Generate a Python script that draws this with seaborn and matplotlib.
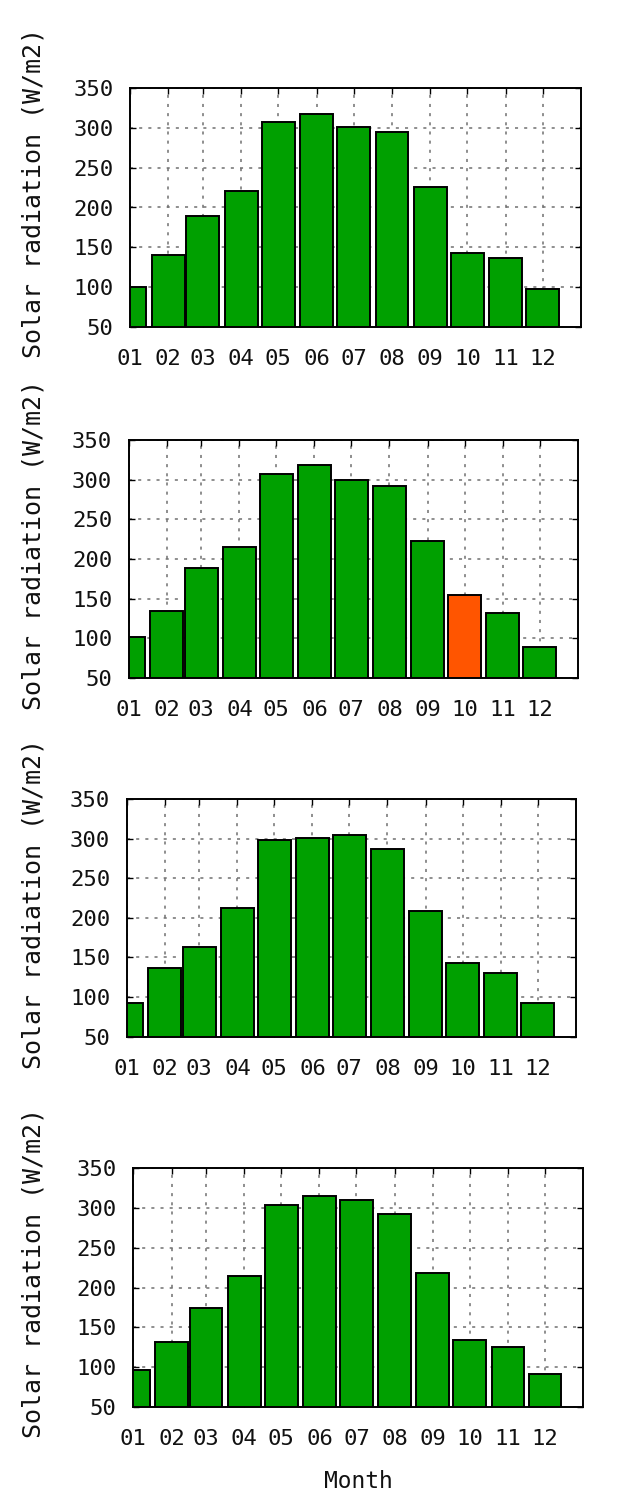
import numpy as np
import pandas as pd
import matplotlib
matplotlib.use("Agg")
import matplotlib.pyplot as plt
import seaborn as sns

# ---- data ----
months = ["01", "02", "03", "04", "05", "06", "07", "08", "09", "10", "11", "12"]
panel1 = [100, 140, 189, 221, 307, 318, 301, 295, 226, 143, 137, 97]
panel2 = [102, 134, 189, 215, 307, 318, 300, 292, 223, 154, 132, 89]
panel3 = [93, 137, 163, 212, 298, 301, 304, 287, 209, 143, 131, 93]
panel4 = [96, 131, 174, 214, 304, 315, 310, 292, 218, 134, 125, 91]
highlight = [None, "10", None, None]
yticks = [50, 100, 150, 200, 250, 300, 350]
ylabel = "Solar radiation (W/m2)"
xlabel = "Month"

GREEN = "#00a000"
ORANGE = "#ff5500"

# month start as day-of-year (time axis like gnuplot)
days = list(pd.to_datetime(["2013-" + m + "-01" for m in months]).dayofyear - 1)

sns.set_theme(style="ticks")
plt.rcParams["font.family"] = ["DejaVu Sans Mono", "DejaVu Sans"]

W, H = 628, 1499
fig = plt.figure(figsize=(W / 100, H / 100), dpi=100)

# axes rectangles in pixels: left, top, right, bottom
rects_px = [
    (130.0, 88.3, 581.0, 326.7),
    (128.7, 440.0, 577.7, 678.0),
    (126.7, 799.0, 575.7, 1036.7),
    (133.3, 1168.3, 583.3, 1406.7),
]

for i, (vals, hl) in enumerate(zip([panel1, panel2, panel3, panel4], highlight)):
    l, t, r, b = rects_px[i]
    ax = fig.add_axes([l / W, 1 - b / H, (r - l) / W, (b - t) / H])
    df = pd.DataFrame({"day": days, "value": vals, "month": months})
    pal = [ORANGE if m == hl else GREEN for m in months]
    sns.barplot(data=df, x="day", y="value", hue="month", palette=pal,
                native_scale=True, width=0.95, dodge=False, legend=False,
                errorbar=None, edgecolor="black", linewidth=1.4, saturation=1,
                ax=ax, zorder=3)
    ax.set_xlim(0, 365)
    ax.set_ylim(50, 350)
    ax.set_xticks(days)
    ax.set_xticklabels(months)
    ax.set_yticks(yticks)
    ax.grid(True, color="#707070", linestyle=(0, (2, 4)), linewidth=1.1, zorder=0)
    ax.set_axisbelow(True)
    ax.tick_params(direction="in", length=4, width=1, top=True, right=True,
                   labelsize=16, color="black", labelcolor="#111111")
    ax.tick_params(axis="x", pad=16)
    ax.tick_params(axis="y", pad=12)
    for s in ax.spines.values():
        s.set_linewidth(1.4)
        s.set_color("black")
        s.set_zorder(5)
    ax.set_ylabel(ylabel, fontsize=18, va="center", color="#111111")
    ax.yaxis.set_label_coords((34 - l) / (r - l), 0.559)
    if i == 3:
        ax.set_xlabel(xlabel, fontsize=16.5, color="#111111")
        ax.xaxis.set_label_coords(0.5, -(1481 - b) / (b - t))
        ax.xaxis.label.set_va("center")
    else:
        ax.set_xlabel("")

fig.savefig("out.png", dpi=100, facecolor="white")
